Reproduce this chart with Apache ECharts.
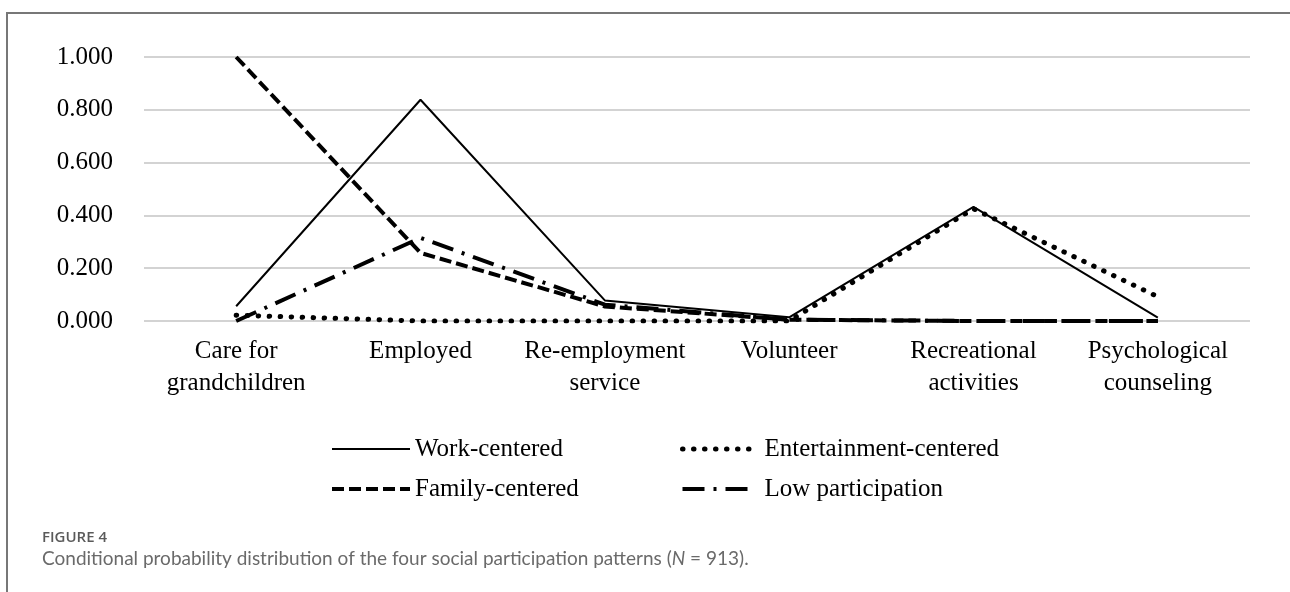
<!DOCTYPE html>
<html>
<head>
<meta charset="utf-8">
<script src="https://cdn.jsdelivr.net/npm/echarts@6/dist/echarts.min.js"></script>
<style>
    body { margin: 0; background: #fff; }
    #wrap { position: relative; width: 1290px; height: 592px; overflow: hidden; }
    #frame { position: absolute; left: 6px; top: 12px; width: 1300px; height: 600px;
        border-left: 2px solid #777; border-top: 2px solid #777; }
    #chart { position: absolute; left: 0; top: 0; width: 1290px; height: 592px; }
</style>
</head>
<body>
<div id="wrap">
    <div id="frame"></div>
    <div id="chart"></div>
</div>
<script>
// Chart data
const categories = ['Care for\ngrandchildren', 'Employed', 'Re-employment\nservice', 'Volunteer', 'Recreational\nactivities', 'Psychological\ncounseling'];
const workCentered = [0.056, 0.838, 0.078, 0.014, 0.432, 0.013];
const entertainmentCentered = [0.022, 0, 0, 0, 0.425, 0.092];
const familyCentered = [1.0, 0.258, 0.055, 0.005, 0, 0];
const lowParticipation = [0, 0.315, 0.062, 0.005, 0, 0];
const yTicks = [0, 0.2, 0.4, 0.6, 0.8, 1.0];

const serif = '"Liberation Serif", "Times New Roman", serif';

// Line styles for each pattern (used by series and legend)
const solidStyle = { color: '#000', width: 2 };
const dottedStyle = { color: '#000', width: 5, type: [0.5, 10.5], cap: 'round' };
const dashedStyle = { color: '#000', width: 4, type: [12, 5] };
const dashDotStyle = { color: '#000', width: 4, type: [22, 9, 3, 9] };

// E-Charts Rendering
const chart = echarts.init(document.getElementById('chart'));
window.addEventListener('resize', function() {
    chart.resize();
});

function legendItem (name, style) {
    return { name: name, lineStyle: style, itemStyle: { opacity: 0 } };
}

let option = {
    animation: false,
    color: ['#000'],
    grid: {
        left: 144,
        right: 40,
        top: 57,
        bottom: 271,
        outerBoundsMode: 'none'
    },
    legend: [
        {
            orient: 'vertical',
            left: 325,
            top: 430,
            itemWidth: 78,
            itemHeight: 14,
            itemGap: 12,
            itemStyle: { opacity: 0 },
            data: [legendItem('Work-centered', solidStyle), legendItem('Family-centered', dashedStyle)],
            textStyle: { fontFamily: serif, fontSize: 25, lineHeight: 28, color: '#000' }
        },
        {
            orient: 'vertical',
            left: 675,
            top: 430,
            itemWidth: 74,
            itemHeight: 14,
            itemGap: 12,
            itemStyle: { opacity: 0 },
            data: [legendItem('Entertainment-centered', dottedStyle), legendItem('Low participation', dashDotStyle)],
            textStyle: { fontFamily: serif, fontSize: 25, lineHeight: 28, color: '#000', padding: [0, 0, 0, 3] }
        }
    ],
    xAxis: {
        type: 'category',
        data: categories,
        boundaryGap: true,
        axisLine: { show: false },
        axisTick: { show: false },
        axisLabel: {
            interval: 0,
            margin: 14,
            fontFamily: serif,
            fontSize: 25,
            lineHeight: 32,
            color: '#000'
        }
    },
    yAxis: {
        type: 'value',
        min: yTicks[0],
        max: yTicks[yTicks.length - 1],
        interval: 0.2,
        axisLine: { show: false },
        axisTick: { show: false },
        axisLabel: {
            margin: 31,
            fontFamily: serif,
            fontSize: 25,
            color: '#000',
            formatter: function (v) { return v.toFixed(3); }
        },
        splitLine: { lineStyle: { color: '#c4c4c4', width: 1.5 } }
    },
    series: [
        {
            name: 'Work-centered',
            type: 'line',
            data: workCentered,
            symbol: 'none',
            itemStyle: { color: '#000' },
            lineStyle: solidStyle
        },
        {
            name: 'Entertainment-centered',
            type: 'line',
            data: entertainmentCentered,
            symbol: 'none',
            itemStyle: { color: '#000' },
            lineStyle: dottedStyle
        },
        {
            name: 'Family-centered',
            type: 'line',
            data: familyCentered,
            symbol: 'none',
            itemStyle: { color: '#000' },
            lineStyle: dashedStyle
        },
        {
            name: 'Low participation',
            type: 'line',
            data: lowParticipation,
            symbol: 'none',
            itemStyle: { color: '#000' },
            lineStyle: dashDotStyle
        }
    ],
    graphic: [
        {
            type: 'text',
            left: 42,
            top: 530,
            style: {
                text: 'FIGURE 4',
                fontFamily: '"Open Sans", sans-serif',
                fontSize: 15,
                fontWeight: 600,
                fill: '#5a5a5a'
            }
        },
        {
            type: 'text',
            left: 42,
            top: 549,
            style: {
                text: 'Conditional probability distribution of the four social participation patterns ({i|N} = 913).',
                fontFamily: 'Lato, sans-serif',
                fontSize: 19,
                fill: '#6a6a6a',
                rich: {
                    i: { fontFamily: 'Lato, sans-serif', fontSize: 19, fontStyle: 'italic', fill: '#6a6a6a' }
                }
            }
        }
    ]
};
chart.setOption(option);
</script>
</body>
</html>
